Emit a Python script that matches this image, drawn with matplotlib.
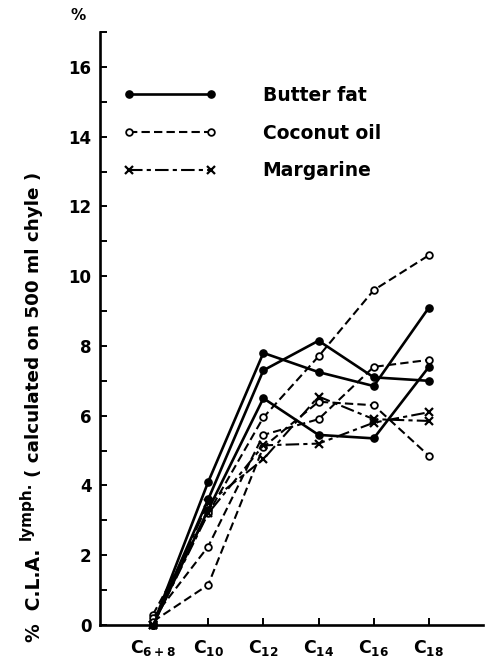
import matplotlib
matplotlib.use('Agg')
import matplotlib.pyplot as plt
from matplotlib.ticker import FixedLocator

plt.rcParams['font.family'] = ['DejaVu Sans']
plt.rcParams['font.weight'] = 'bold'
plt.rcParams['mathtext.fontset'] = 'dejavusans'
plt.rcParams['mathtext.default'] = 'bf'

# ---- data ----
categories = [r'C$_{6+8}$', r'C$_{10}$', r'C$_{12}$', r'C$_{14}$', r'C$_{16}$', r'C$_{18}$']
butter_fat_1 = [0.0, 4.1, 7.8, 7.25, 6.85, 9.1]
butter_fat_2 = [0.0, 3.6, 7.3, 8.15, 7.1, 7.0]
butter_fat_3 = [0.0, 3.3, 6.5, 5.45, 5.35, 7.4]
coconut_oil_1 = [0.3, 3.2, 5.95, 7.7, 9.6, 10.6]
coconut_oil_2 = [0.2, 2.25, 5.45, 5.9, 7.4, 7.6]
coconut_oil_3 = [0.1, 1.15, 5.1, 6.4, 6.3, 4.85]
margarine_1 = [0.0, 3.5, 4.75, 6.55, 5.9, 5.85]
margarine_2 = [0.0, 3.2, 5.15, 5.2, 5.8, 6.1]
y_major = [0, 2, 4, 6, 8, 10, 12, 14, 16]
y_minor = [1, 3, 5, 7, 9, 11, 13, 15, 17]

fig = plt.figure(figsize=(4.87, 6.6), dpi=100)
ax = fig.add_axes([100 / 487, 35 / 660, 383 / 487, 593 / 660])

xs = list(range(len(categories)))

butter_style = dict(color='black', lw=1.9, ls='-', marker='o', ms=5.2,
                    mfc='black', mec='black', clip_on=False)
coconut_style = dict(color='black', lw=1.5, ls=(0, (4, 2)), marker='o', ms=4.8,
                     mfc='white', mec='black', mew=1.3, clip_on=False)
marg_style = dict(color='black', lw=1.5, ls=(0, (6.5, 2, 2, 2)), marker='x', ms=6,
                  mec='black', mew=1.6, clip_on=False)

handles = []
for i, s in enumerate([butter_fat_1, butter_fat_2, butter_fat_3]):
    h, = ax.plot(xs, s, **butter_style)
    if i == 0:
        handles.append(h)
for i, s in enumerate([coconut_oil_1, coconut_oil_2, coconut_oil_3]):
    h, = ax.plot(xs, s, **coconut_style)
    if i == 0:
        handles.append(h)
for i, s in enumerate([margarine_1, margarine_2]):
    h, = ax.plot(xs, s, **marg_style)
    if i == 0:
        handles.append(h)

leg = ax.legend(handles, ['Butter fat', 'Coconut oil', 'Margarine'],
                loc='upper left', bbox_to_anchor=(123 / 487, (660 - 86) / 660),
                bbox_transform=fig.transFigure, frameon=False, numpoints=2,
                handlelength=5.0, handletextpad=2.45, labelspacing=0.99,
                borderpad=0, borderaxespad=0, prop=dict(size=13.5, weight='bold'))

ax.set_xlim(-0.96, 5.98)
ax.set_ylim(0, 17)
ax.set_xticks(xs)
ax.set_xticklabels(categories, fontsize=12.5)
ax.yaxis.set_major_locator(FixedLocator(y_major))
ax.yaxis.set_minor_locator(FixedLocator(y_minor))
ax.set_yticklabels([str(v) for v in y_major], fontsize=12, fontweight='bold')

for sp in ['top', 'right']:
    ax.spines[sp].set_visible(False)
for sp in ['left', 'bottom']:
    ax.spines[sp].set_linewidth(1.9)

ax.tick_params(axis='y', which='both', direction='in', length=5, width=1.4, pad=6)
ax.tick_params(axis='x', which='major', direction='in', length=5, width=1.4, pad=9)

# axis label pieces
fig.text(78 / 487, 1 - 15 / 660, '%', ha='center', va='center', fontsize=11, fontweight='bold')
fig.text(35 / 487, (660 - 642) / 660, '%  C.L.A.', rotation=90, ha='center', va='bottom',
         fontsize=13.5, fontweight='bold')
fig.text(26 / 487, (660 - 540) / 660, 'lymph.', rotation=90, ha='center', va='bottom',
         fontsize=11, fontweight='bold')
fig.text(34 / 487, (660 - 477) / 660, '( calculated on 500 ml chyle )', rotation=90,
         ha='center', va='bottom', fontsize=13.2, fontweight='bold')

fig.savefig('out.png', dpi=100)
